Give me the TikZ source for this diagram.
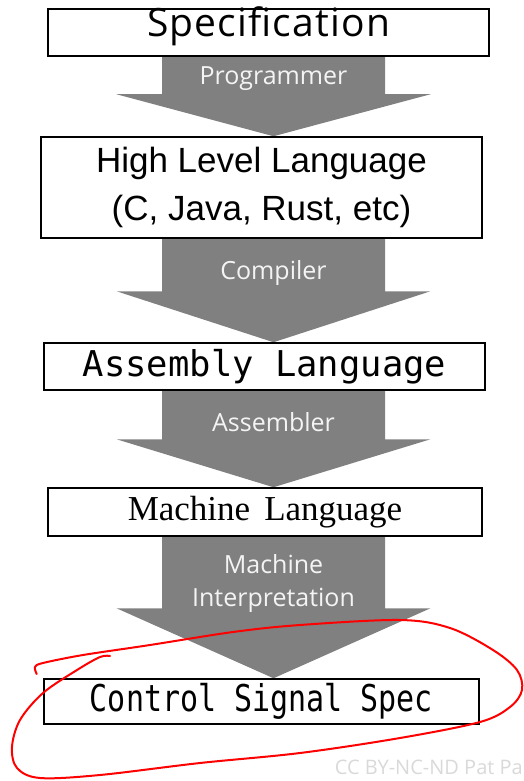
\documentclass[tikz,border=0pt]{standalone}
\usepackage{fontspec}
\usepackage{graphicx}
\usepackage{tikz}
\usetikzlibrary{calc, backgrounds}
\usetikzlibrary{positioning}
\newfontfamily\opensans{Open Sans}
\newfontfamily\arialfont{Liberation Sans}
\newfontfamily\timesfont{Liberation Serif}
\newfontfamily\asmfont{DejaVu Sans Mono}
\usepackage{xcolor}
\definecolor{arrowgray}{HTML}{808080}
\definecolor{labelwhite}{HTML}{F4F4F4}
\definecolor{ccgray}{HTML}{D9D9D9}
\definecolor{penred}{HTML}{FF0000}
\newcommand\flowarrow[3]{
  \fill[flow] ($(axis |- #1.south)+(-111.5,0)$) -- ($(axis |- #1.south)+(111.5,0)$)
    -- ($(axis |- #2.north)+(111.5,-#3)$) -- ($(axis |- #2.north)+(157,-#3)$)
    -- (axis |- #2.north)
    -- ($(axis |- #2.north)+(-157,-#3)$) -- ($(axis |- #2.north)+(-111.5,-#3)$) -- cycle;
}
\tikzset{
  layer/.style={draw, line width=1.5pt, fill=white, inner sep=0pt, minimum width=441pt, minimum height=47pt},
  flow/.style={fill=arrowgray},
  flowlabel/.style={text=labelwhite, align=center, inner sep=0pt, font=\opensans\fontsize{25}{33}\selectfont}
}

\begin{document}
\begin{tikzpicture}[x=1pt, y=-1pt]
    \useasboundingbox (0,0) rectangle (523,781);
    \coordinate (axis) at (273.5,0);

    \node[layer, text height=15pt, text depth=6pt, font=\opensans\addfontfeature{LetterSpace=3}\fontsize{39}{42}\selectfont] (spec) at (268.5,32.5) {Specification};
    \node[layer, minimum height=101pt, align=center, font=\arialfont\fontsize{35}{48}\selectfont] (hll) at (261.5,187.5) {High Level Language\\(C, Java, Rust, etc)};
    \node[layer, font=\asmfont\fontsize{35.5}{40}\selectfont] (asm) at (264.5,366.5) {Assembly Language};
    \node[layer, minimum width=434pt, minimum height=48pt, font=\timesfont\fontsize{35}{40}\selectfont] (ml) at (265,512) {Machine\hspace{14pt}Language};
    \node[layer, minimum width=435pt, minimum height=45pt, font=\asmfont\fontsize{30}{36}\selectfont] (css) at (261.5,701.5) {\scalebox{1}[1.23]{Control Signal Spec}};

    \begin{scope}[on background layer]
      \flowarrow{spec}{hll}{42}
      \flowarrow{hll}{asm}{51}
      \flowarrow{asm}{ml}{48}
      \flowarrow{ml}{css}{70}
    \end{scope}

    \node[flowlabel] (prog) at (273.5,79) {Programmer};
    \node[flowlabel] (comp) at (273.5,273) {Compiler};
    \node[flowlabel] (assem) at (273.5,422) {Assembler};
    \node[flowlabel] (interp) at (273.5,583) {Machine\\Interpretation};

    % hand drawn circle round the last box
    \draw[penred, line width=2pt, line cap=round] plot[smooth, tension=0.55] coordinates {
      (36.7,674) (35,667) (43,663) (83,655) (150,645) (233,632) (300,625) (400,620)
      (450,628) (493,650) (517,670) (522,690) (510,707) (480,722) (400,738) (300,753)
      (200,763) (100,775) (40,778) (17,768) (12,747) (20,720) (43,693) (77,670)
      (100,657) (110,656)};

    \node[anchor=base east, inner sep=0pt, text=ccgray, font=\opensans\fontsize{20}{20}\selectfont] (cc) at (523,774) {CC BY-NC-ND Pat Pa};
\end{tikzpicture}
\end{document}
